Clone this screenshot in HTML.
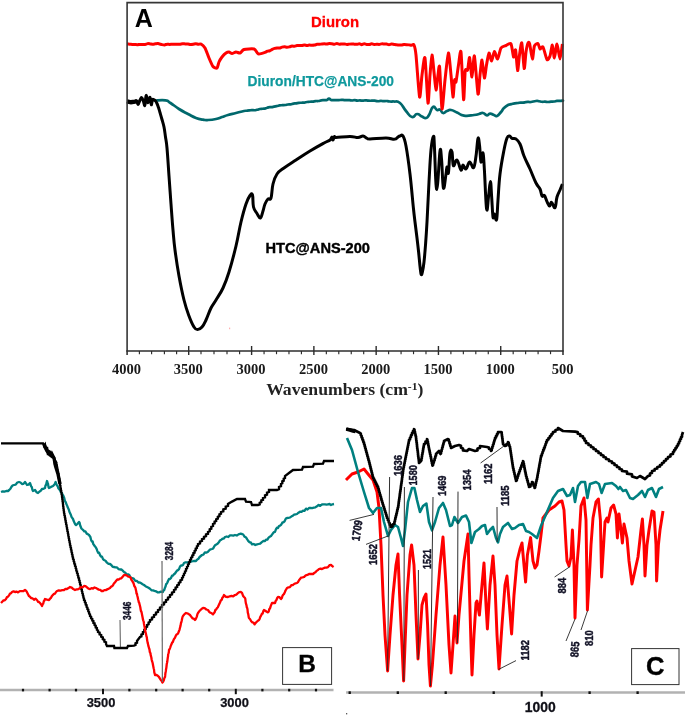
<!DOCTYPE html>
<html><head><meta charset="utf-8"><title>FTIR spectra</title>
<style>html,body{margin:0;padding:0;background:#fff;}body{width:685px;height:716px;overflow:hidden;font-family:"Liberation Sans",sans-serif;}svg{display:block;}text{font-family:"Liberation Sans",sans-serif;}.sf{font-family:"Liberation Serif",serif;font-weight:bold;}</style>
</head><body>
<svg width="685" height="716" viewBox="0 0 685 716" style="will-change:transform">
<rect x="0" y="0" width="685" height="716" fill="#ffffff"/>
<g id="panelA">
<path d="M155 100.6 C157.80 100.55 161.37 99.76 165.5 100.4 C169.63 101.04 166.90 100.71 170.5 103 C174.10 105.29 174.33 106.07 179 109 C183.67 111.93 183.47 111.60 188 114 C192.53 116.40 192.00 116.51 196 118 C200.00 119.49 199.80 119.07 203 119.6 C206.20 120.13 204.53 120.16 208 120 C211.47 119.84 212.27 119.80 216 119 C219.73 118.20 218.80 118.07 222 117 C225.20 115.93 224.27 116.07 228 115 C231.73 113.93 231.73 114.07 236 113 C240.27 111.93 241.17 111.60 244 111 C246.83 110.40 245.21 110.89 246.6 110.74 C247.99 110.59 247.81 110.62 249.2 110.44 C250.59 110.26 250.41 110.11 251.8 110.06 C253.19 110.01 253.01 110.33 254.4 110.26 C255.79 110.19 255.53 110.15 257 109.8 C258.47 109.45 258.38 109.25 259.9 108.96 C261.42 108.67 261.18 108.87 262.7 108.72 C264.22 108.57 264.08 108.77 265.6 108.41 C267.12 108.05 266.88 107.72 268.4 107.38 C269.92 107.04 269.78 107.33 271.3 107.12 C272.82 106.91 272.58 106.91 274.1 106.61 C275.62 106.31 275.51 106.33 277 106 C278.49 105.67 278.23 105.57 279.7 105.36 C281.17 105.15 281.03 105.29 282.5 105.2 C283.97 105.11 283.76 105.21 285.2 105.03 C286.64 104.85 286.46 104.71 287.9 104.52 C289.34 104.33 289.13 104.56 290.6 104.32 C292.07 104.08 291.93 103.88 293.4 103.61 C294.87 103.34 294.66 103.50 296.1 103.3 C297.54 103.10 297.36 103.01 298.8 102.86 C300.24 102.71 300.03 102.79 301.5 102.73 C302.97 102.67 302.83 102.81 304.3 102.62 C305.77 102.43 305.51 102.23 307 102 C308.49 101.77 308.38 101.88 309.9 101.77 C311.42 101.66 311.18 101.78 312.7 101.59 C314.22 101.40 314.08 101.23 315.6 101.07 C317.12 100.91 316.88 101.20 318.4 101 C319.92 100.80 319.78 100.55 321.3 100.33 C322.82 100.11 322.58 100.25 324.1 100.16 C325.62 100.07 325.69 100.44 327 100 C328.31 99.56 327.93 98.50 329 98.5 C330.07 98.50 329.77 99.56 331 100 C332.23 100.44 332.19 100.08 333.6 100.14 C335.01 100.20 334.89 100.23 336.3 100.21 C337.71 100.19 337.51 100.14 338.9 100.06 C340.29 99.98 340.09 99.91 341.5 99.9 C342.91 99.89 342.79 100.00 344.2 100.04 C345.61 100.08 345.39 100.02 346.8 100.04 C348.21 100.06 348.09 100.00 349.5 100.12 C350.91 100.24 350.71 100.47 352.1 100.48 C353.49 100.49 353.29 100.12 354.7 100.15 C356.11 100.18 355.99 100.53 357.4 100.6 C358.81 100.67 358.61 100.37 360 100.4 C361.39 100.43 361.21 100.74 362.6 100.71 C363.99 100.68 363.81 100.33 365.2 100.3 C366.59 100.27 366.39 100.47 367.8 100.58 C369.21 100.69 369.09 100.74 370.5 100.73 C371.91 100.72 371.71 100.51 373.1 100.54 C374.49 100.57 374.31 100.67 375.7 100.86 C377.09 101.05 376.91 101.25 378.3 101.24 C379.69 101.23 379.51 100.85 380.9 100.84 C382.29 100.83 382.09 101.17 383.5 101.22 C384.91 101.27 384.79 100.98 386.2 101.02 C387.61 101.06 387.41 101.21 388.8 101.38 C390.19 101.55 390.01 101.62 391.4 101.65 C392.79 101.68 391.71 101.14 394 101.5 C396.29 101.86 396.80 100.47 400 103 C403.20 105.53 402.80 107.27 406 111 C409.20 114.73 409.07 116.20 412 117 C414.93 117.80 414.33 114.13 417 114 C419.67 113.87 419.60 115.43 422 116.5 C424.40 117.57 424.13 118.40 426 118 C427.87 117.60 427.13 117.93 429 115 C430.87 112.07 430.87 108.33 433 107 C435.13 105.67 435.13 109.31 437 110 C438.87 110.69 438.40 108.80 440 109.6 C441.60 110.40 441.13 112.63 443 113 C444.87 113.37 444.87 111.80 447 111 C449.13 110.20 448.33 109.60 451 110 C453.67 110.40 453.53 111.01 457 112.5 C460.47 113.99 459.47 114.93 464 115.6 C468.53 116.27 470.00 115.43 474 115 C478.00 114.57 476.60 114.53 479 114 C481.40 113.47 480.87 112.63 483 113 C485.13 113.37 485.13 115.24 487 115.4 C488.87 115.56 488.13 113.71 490 113.6 C491.87 113.49 492.13 114.36 494 115 C495.87 115.64 495.13 116.80 497 116 C498.87 115.20 499.13 114.13 501 112 C502.87 109.87 502.13 109.87 504 108 C505.87 106.13 506.05 106.02 508 105 C509.95 103.98 509.51 104.59 511.3 104.16 C513.09 103.73 512.91 103.68 514.7 103.37 C516.49 103.06 516.43 103.22 518 103 C519.57 102.78 519.21 102.65 520.6 102.55 C521.99 102.45 521.81 102.74 523.2 102.62 C524.59 102.50 524.41 102.29 525.8 102.11 C527.19 101.93 527.01 101.98 528.4 101.95 C529.79 101.92 528.97 102.25 531 102 C533.03 101.75 533.87 101.20 536 101 C538.13 100.80 537.40 101.05 539 101.25 C540.60 101.45 540.40 101.63 542 101.75 C543.60 101.87 543.40 101.63 545 101.7 C546.60 101.77 546.40 102.01 548 102 C549.60 101.99 549.40 101.79 551 101.66 C552.60 101.53 552.40 101.72 554 101.52 C555.60 101.32 555.40 101.08 557 100.92 C558.60 100.76 558.40 101.02 560 100.93 C561.60 100.84 562.20 100.69 563 100.6" fill="none" stroke="#00686c" stroke-width="2.7" stroke-linejoin="round" stroke-linecap="round"/>
<path d="M127 44 C127.30 44.02 128.99 44.15 129.6 44.19 C130.21 44.23 131.59 44.34 132.2 44.38 C132.81 44.42 134.19 44.47 134.8 44.51 C135.41 44.55 136.79 44.73 137.4 44.72 C138.01 44.71 139.39 44.43 140 44.4 C140.61 44.37 142.00 44.48 142.6 44.5 C143.19 44.52 144.50 44.65 145.1 44.55 C145.69 44.45 147.09 43.70 147.7 43.63 C148.31 43.56 149.69 43.84 150.3 43.91 C150.91 43.98 152.31 44.24 152.9 44.23 C153.50 44.22 154.81 43.92 155.4 43.85 C156.00 43.78 157.23 43.51 158 43.6 C158.77 43.69 161.23 44.45 162 44.6 C162.77 44.75 164.00 44.95 164.6 44.9 C165.19 44.85 166.50 44.20 167.1 44.14 C167.69 44.08 169.09 44.40 169.7 44.4 C170.31 44.40 171.69 44.15 172.3 44.14 C172.91 44.13 174.31 44.33 174.9 44.35 C175.50 44.37 176.81 44.34 177.4 44.32 C178.00 44.30 179.39 44.27 180 44.2 C180.61 44.13 181.99 43.78 182.6 43.74 C183.21 43.70 184.58 43.88 185.2 43.9 C185.82 43.92 187.28 43.86 187.9 43.93 C188.52 44.00 189.89 44.43 190.5 44.47 C191.11 44.51 192.48 44.40 193.1 44.31 C193.72 44.22 195.18 43.74 195.8 43.74 C196.42 43.74 197.79 44.26 198.4 44.29 C199.01 44.32 200.23 43.57 201 44 C201.77 44.43 204.07 46.37 205 48 C205.93 49.63 208.07 55.84 209 58 C209.93 60.16 212.07 65.33 213 66.5 C213.93 67.67 216.30 68.53 217 68 C217.70 67.47 218.42 63.28 219 62 C219.58 60.72 221.18 58.05 222 57 C222.82 55.95 225.18 53.58 226 53 C226.82 52.42 228.30 51.94 229 52 C229.70 52.06 231.18 53.50 232 53.5 C232.82 53.50 235.07 52.06 236 52 C236.93 51.94 239.07 53.29 240 53 C240.93 52.71 242.37 49.97 244 49.5 C245.63 49.03 252.48 48.65 254 49 C255.52 49.35 256.42 51.92 257 52.5 C257.58 53.08 258.07 54.01 259 54 C259.93 53.99 264.02 52.73 265 52.4 C265.98 52.07 266.84 51.38 267.4 51.19 C267.96 51.00 269.24 50.96 269.8 50.75 C270.36 50.54 271.64 49.69 272.2 49.42 C272.76 49.15 274.04 48.60 274.6 48.43 C275.16 48.26 276.43 48.05 277 48 C277.57 47.95 278.92 48.13 279.5 48.03 C280.08 47.93 281.42 47.28 282 47.14 C282.58 47.00 283.92 46.83 284.5 46.84 C285.08 46.85 286.42 47.23 287 47.23 C287.58 47.23 288.92 46.98 289.5 46.84 C290.08 46.70 291.42 46.07 292 46.01 C292.58 45.95 293.92 46.37 294.5 46.32 C295.08 46.27 296.42 45.70 297 45.6 C297.58 45.50 298.92 45.51 299.5 45.5 C300.08 45.49 301.42 45.56 302 45.49 C302.58 45.42 303.92 44.93 304.5 44.93 C305.08 44.93 306.42 45.44 307 45.46 C307.58 45.48 308.92 45.13 309.5 45.1 C310.08 45.07 311.42 45.23 312 45.22 C312.58 45.21 313.92 45.12 314.5 45.02 C315.08 44.92 316.42 44.44 317 44.35 C317.58 44.26 318.92 44.32 319.5 44.28 C320.08 44.24 321.42 44.02 322 43.97 C322.58 43.92 323.92 43.81 324.5 43.81 C325.08 43.81 326.42 44.02 327 44 C327.58 43.98 328.92 43.64 329.5 43.62 C330.08 43.60 331.43 43.79 332 43.85 C332.57 43.91 333.83 44.17 334.4 44.14 C334.97 44.11 336.32 43.60 336.9 43.61 C337.48 43.62 338.82 44.19 339.4 44.23 C339.98 44.27 341.32 43.97 341.9 43.94 C342.48 43.91 343.82 43.88 344.4 43.93 C344.98 43.98 346.33 44.39 346.9 44.41 C347.47 44.43 348.73 44.17 349.3 44.12 C349.87 44.07 351.22 43.98 351.8 43.98 C352.38 43.98 353.72 44.11 354.3 44.15 C354.88 44.19 356.22 44.40 356.8 44.36 C357.38 44.32 358.73 43.76 359.3 43.79 C359.87 43.82 361.13 44.63 361.7 44.63 C362.27 44.63 363.62 43.81 364.2 43.79 C364.78 43.77 366.12 44.37 366.7 44.46 C367.28 44.55 368.62 44.63 369.2 44.56 C369.78 44.49 371.13 43.83 371.7 43.83 C372.27 43.83 373.53 44.50 374.1 44.54 C374.67 44.58 376.02 44.20 376.6 44.18 C377.18 44.16 378.52 44.41 379.1 44.38 C379.68 44.35 381.02 43.93 381.6 43.88 C382.18 43.83 383.52 43.91 384.1 43.93 C384.68 43.95 386.03 43.97 386.6 44.07 C387.17 44.17 388.43 44.78 389 44.78 C389.57 44.78 390.92 44.15 391.5 44.11 C392.08 44.07 393.42 44.33 394 44.4 C394.58 44.47 395.92 44.65 396.5 44.71 C397.08 44.77 398.42 44.90 399 44.94 C399.58 44.98 400.92 45.06 401.5 45.02 C402.08 44.98 403.42 44.60 404 44.56 C404.58 44.52 405.92 44.60 406.5 44.64 C407.08 44.68 408.42 44.81 409 44.87 C409.58 44.93 410.92 45.15 411.5 45.17 C412.08 45.19 413.48 43.85 414 45 C414.52 46.15 415.35 48.93 416 55 C416.65 61.07 418.90 94.67 419.6 97 C420.30 99.33 421.37 79.55 422 75 C422.63 70.45 424.30 54.73 425 58 C425.70 61.27 427.42 101.02 428 103 C428.58 104.98 429.53 80.60 430 75 C430.47 69.40 431.53 55.35 432 55 C432.47 54.65 433.53 67.92 434 72 C434.47 76.08 435.53 89.65 436 90 C436.47 90.35 437.58 77.68 438 75 C438.42 72.32 439.13 63.03 439.6 67 C440.07 70.97 441.37 107.48 442 109 C442.63 110.52 444.25 86.53 445 80 C445.75 73.47 447.70 53.58 448.4 53 C449.10 52.42 450.46 69.87 451 75 C451.54 80.13 452.58 96.42 453 97 C453.42 97.58 454.25 81.75 454.6 80 C454.95 78.25 455.55 83.75 456 82 C456.45 80.25 457.92 68.50 458.5 65 C459.08 61.50 460.40 47.96 461 52 C461.60 56.04 463.11 97.38 463.6 99.6 C464.09 101.82 464.73 74.45 465.2 71 C465.67 67.55 467.09 71.58 467.6 70 C468.11 68.42 469.09 56.68 469.6 57.5 C470.11 58.32 471.44 77.17 472 77 C472.56 76.83 473.70 54.02 474.4 56 C475.10 57.98 477.35 91.78 478 94 C478.65 96.22 479.53 78.97 480 75 C480.47 71.03 481.49 59.65 482 60 C482.51 60.35 483.88 77.42 484.4 78 C484.92 78.58 485.96 67.92 486.5 65 C487.04 62.08 488.40 53.47 489 53 C489.60 52.53 490.97 61.17 491.6 61 C492.23 60.83 493.70 51.73 494.4 51.5 C495.10 51.27 496.83 59.41 497.6 59 C498.37 58.59 500.02 49.58 501 48 C501.98 46.42 504.83 45.99 506 45.5 C507.17 45.01 510.11 42.46 511 43.8 C511.89 45.14 513.06 56.28 513.6 57 C514.14 57.72 515.13 48.42 515.6 50 C516.07 51.58 517.14 69.92 517.6 70.5 C518.06 71.08 519.01 58.21 519.5 55 C519.99 51.79 521.25 41.42 521.8 43 C522.35 44.58 523.71 67.45 524.2 68.5 C524.69 69.55 525.56 54.98 526 52 C526.44 49.02 527.58 43.98 528 43 C528.42 42.02 529.09 41.73 529.6 43.6 C530.11 45.47 531.84 58.72 532.4 59 C532.96 59.28 533.75 47.80 534.4 46 C535.05 44.20 537.35 43.25 538 43.6 C538.65 43.95 539.42 48.60 540 49 C540.58 49.40 542.18 45.76 543 47 C543.82 48.24 546.18 58.55 547 59.6 C547.82 60.65 549.37 57.70 550 56 C550.63 54.30 551.89 44.77 552.4 45 C552.91 45.23 553.86 58.12 554.4 58 C554.94 57.88 556.35 43.88 557 44 C557.65 44.12 559.37 59.00 560 59 C560.63 59.00 562.12 45.75 562.4 44" fill="none" stroke="#ff0000" stroke-width="3.0" stroke-linejoin="round" stroke-linecap="butt"/>
<path d="M127 101.4 C127.80 101.56 129.40 102.16 131 102.2 C132.60 102.24 133.84 101.84 135 101.6 C136.16 101.36 136.16 100.44 136.8 101 C137.44 101.56 137.56 104.60 138.2 104.4 C138.84 104.20 139.30 101.36 140 100 C140.70 98.64 141.04 97.40 141.7 97.6 C142.36 97.80 142.68 99.40 143.3 101 C143.92 102.60 144.36 105.80 144.8 105.6 C145.24 105.40 145.24 102.04 145.5 100 C145.76 97.96 145.80 95.60 146.1 95.4 C146.40 95.20 146.66 97.56 147 99 C147.34 100.44 147.40 102.40 147.8 102.6 C148.20 102.80 148.56 101.08 149 100 C149.44 98.92 149.66 97.00 150 97.2 C150.34 97.40 150.44 99.48 150.7 101 C150.96 102.52 151.04 104.60 151.3 104.8 C151.56 105.00 151.74 103.08 152 102 C152.26 100.92 152.20 99.84 152.6 99.4 C153.00 98.96 153.46 99.56 154 99.8 C154.54 100.04 154.70 99.86 155.3 100.6 C155.90 101.34 156.36 102.12 157 103.5 C157.64 104.88 157.90 105.70 158.5 107.5 C159.10 109.30 159.30 110.10 160 112.5 C160.70 114.90 161.20 116.60 162 119.5 C162.80 122.40 163.30 123.50 164 127 C164.70 130.50 164.90 132.80 165.5 137 C166.10 141.20 166.30 140.20 167 148 C167.70 155.80 168.20 164.80 169 176 C169.80 187.20 170.20 193.20 171 204 C171.80 214.80 172.20 220.80 173 230 C173.80 239.20 173.80 240.80 175 250 C176.20 259.20 177.20 266.00 179 276 C180.80 286.00 182.00 292.00 184 300 C186.00 308.00 187.00 310.60 189 316 C191.00 321.40 192.28 324.28 194 327 C195.72 329.72 196.00 329.60 197.6 329.6 C199.20 329.60 200.32 328.92 202 327 C203.68 325.08 204.20 323.80 206 320 C207.80 316.20 209.00 312.00 211 308 C213.00 304.00 213.60 304.00 216 300 C218.40 296.00 220.40 293.60 223 288 C225.60 282.40 226.40 280.40 229 272 C231.60 263.60 233.60 256.00 236 246 C238.40 236.00 239.00 230.40 241 222 C243.00 213.60 244.20 209.30 246 204 C247.80 198.70 248.70 197.30 250 195.5 C251.30 193.70 251.80 192.70 252.5 195 C253.20 197.30 252.60 203.30 253.5 207 C254.40 210.70 255.62 211.30 257 213.5 C258.38 215.70 259.20 218.50 260.4 218 C261.60 217.50 262.08 213.80 263 211 C263.92 208.20 264.00 206.40 265 204 C266.00 201.60 266.80 200.20 268 199 C269.20 197.80 270.00 201.00 271 198 C272.00 195.00 271.80 188.80 273 184 C274.20 179.20 274.80 177.20 277 174 C279.20 170.80 280.20 170.80 284 168 C287.80 165.20 290.80 163.40 296 160 C301.20 156.60 304.40 154.40 310 151 C315.60 147.60 320.00 145.20 324 143 C328.00 140.80 328.40 141.20 330 140 C331.60 138.80 331.40 137.00 332 137 C332.60 137.00 332.50 140.10 333 140 C333.50 139.90 333.90 137.00 334.5 136.5 C335.10 136.00 332.90 137.52 336 137.5 C339.10 137.48 345.60 136.38 350 136.4 C354.40 136.42 355.40 137.68 358 137.6 C360.60 137.52 361.20 135.84 363 136 C364.80 136.16 365.60 137.80 367 138.4 C368.40 139.00 366.20 139.08 370 139 C373.80 138.92 381.40 137.96 386 138 C390.60 138.04 391.00 139.04 393 139.2 C395.00 139.36 395.00 139.24 396 138.8 C397.00 138.36 397.20 137.56 398 137 C398.80 136.44 399.00 136.20 400 136 C401.00 135.80 401.80 134.00 403 136 C404.20 138.00 404.60 138.40 406 146 C407.40 153.60 408.52 161.60 410 174 C411.48 186.40 412.40 198.40 413.4 208 C414.40 217.60 414.28 216.00 415 222 C415.72 228.00 416.28 232.00 417 238 C417.72 244.00 417.96 246.00 418.6 252 C419.24 258.00 419.68 263.50 420.2 268 C420.72 272.50 420.76 273.70 421.2 274.5 C421.64 275.30 421.84 274.50 422.4 272 C422.96 269.50 423.38 267.40 424 262 C424.62 256.60 424.90 253.00 425.5 245 C426.10 237.00 426.30 234.60 427 222 C427.70 209.40 428.20 196.40 429 182 C429.80 167.60 430.12 159.12 431 150 C431.88 140.88 432.72 137.20 433.4 136.4 C434.08 135.60 433.88 136.48 434.4 146 C434.92 155.52 435.36 176.40 436 184 C436.64 191.60 436.80 190.60 437.6 184 C438.40 177.40 439.20 155.80 440 151 C440.80 146.20 440.92 152.60 441.6 160 C442.28 167.40 442.52 185.20 443.4 188 C444.28 190.80 445.28 178.20 446 174 C446.72 169.80 446.52 167.20 447 167 C447.48 166.80 447.80 175.80 448.4 173 C449.00 170.20 449.28 157.20 450 153 C450.72 148.80 451.32 149.48 452 152 C452.68 154.52 452.40 164.00 453.4 165.6 C454.40 167.20 455.48 159.12 457 160 C458.52 160.88 459.80 169.00 461 170 C462.20 171.00 462.00 165.20 463 165 C464.00 164.80 464.68 169.60 466 169 C467.32 168.40 468.08 162.28 469.6 162 C471.12 161.72 472.32 168.80 473.6 167.6 C474.88 166.40 475.12 161.84 476 156 C476.88 150.16 477.28 140.40 478 138.4 C478.72 136.40 479.00 141.28 479.6 146 C480.20 150.72 480.32 160.60 481 162 C481.68 163.40 482.32 151.40 483 153 C483.68 154.60 483.68 158.80 484.4 170 C485.12 181.20 485.76 203.80 486.6 209 C487.44 214.20 487.84 201.48 488.6 196 C489.36 190.52 489.80 181.60 490.4 181.6 C491.00 181.60 491.08 188.92 491.6 196 C492.12 203.08 492.44 213.40 493 217 C493.56 220.60 493.68 213.48 494.4 214 C495.12 214.52 495.88 222.40 496.6 219.6 C497.32 216.80 497.32 209.12 498 200 C498.68 190.88 498.80 184.00 500 174 C501.20 164.00 502.60 157.20 504 150 C505.40 142.80 505.88 140.80 507 138 C508.12 135.20 508.60 135.92 509.6 136 C510.60 136.08 510.72 137.80 512 138.4 C513.28 139.00 514.40 137.88 516 139 C517.60 140.12 518.40 140.60 520 144 C521.60 147.40 522.00 151.00 524 156 C526.00 161.00 527.60 163.60 530 169 C532.40 174.40 534.00 179.00 536 183 C538.00 187.00 538.80 186.40 540 189 C541.20 191.60 541.12 194.68 542 196 C542.88 197.32 543.40 194.48 544.4 195.6 C545.40 196.72 545.96 199.52 547 201.6 C548.04 203.68 548.68 205.84 549.6 206 C550.52 206.16 550.52 202.08 551.6 202.4 C552.68 202.72 553.92 208.68 555 207.6 C556.08 206.52 556.00 200.52 557 197 C558.00 193.48 558.92 192.60 560 190 C561.08 187.40 561.92 185.20 562.4 184" fill="none" stroke="#000" stroke-width="3.0" stroke-linejoin="round" stroke-linecap="butt"/>
<polyline points="127,101.4 131,102.3 135,101.7 137,101.2" fill="none" stroke="#000" stroke-width="4.4"/>
<path d="M127.1 355 L127.1 2.6 L563 2.6 L563 355" fill="none" stroke="#363636" stroke-width="1.6"/>
<line x1="126.3" y1="351" x2="563.6" y2="351" stroke="#2c2c2c" stroke-width="1.5"/>
<line x1="139.40" y1="351" x2="139.40" y2="354.2" stroke="#2c2c2c" stroke-width="1.15"/>
<line x1="151.60" y1="351" x2="151.60" y2="354.2" stroke="#2c2c2c" stroke-width="1.15"/>
<line x1="164.40" y1="351" x2="164.40" y2="354.2" stroke="#2c2c2c" stroke-width="1.15"/>
<line x1="176.60" y1="351" x2="176.60" y2="354.2" stroke="#2c2c2c" stroke-width="1.15"/>
<line x1="188.70" y1="346" x2="188.70" y2="355" stroke="#2c2c2c" stroke-width="1.4"/>
<line x1="201.00" y1="351" x2="201.00" y2="354.2" stroke="#2c2c2c" stroke-width="1.15"/>
<line x1="214.00" y1="351" x2="214.00" y2="354.2" stroke="#2c2c2c" stroke-width="1.15"/>
<line x1="227.00" y1="351" x2="227.00" y2="354.2" stroke="#2c2c2c" stroke-width="1.15"/>
<line x1="239.60" y1="351" x2="239.60" y2="354.2" stroke="#2c2c2c" stroke-width="1.15"/>
<line x1="251.60" y1="346" x2="251.60" y2="355" stroke="#2c2c2c" stroke-width="1.4"/>
<line x1="264.06" y1="351" x2="264.06" y2="354.2" stroke="#2c2c2c" stroke-width="1.15"/>
<line x1="276.51" y1="351" x2="276.51" y2="354.2" stroke="#2c2c2c" stroke-width="1.15"/>
<line x1="288.97" y1="351" x2="288.97" y2="354.2" stroke="#2c2c2c" stroke-width="1.15"/>
<line x1="301.42" y1="351" x2="301.42" y2="354.2" stroke="#2c2c2c" stroke-width="1.15"/>
<line x1="313.88" y1="346" x2="313.88" y2="355" stroke="#2c2c2c" stroke-width="1.4"/>
<line x1="326.34" y1="351" x2="326.34" y2="354.2" stroke="#2c2c2c" stroke-width="1.15"/>
<line x1="338.79" y1="351" x2="338.79" y2="354.2" stroke="#2c2c2c" stroke-width="1.15"/>
<line x1="351.25" y1="351" x2="351.25" y2="354.2" stroke="#2c2c2c" stroke-width="1.15"/>
<line x1="363.70" y1="351" x2="363.70" y2="354.2" stroke="#2c2c2c" stroke-width="1.15"/>
<line x1="376.16" y1="346" x2="376.16" y2="355" stroke="#2c2c2c" stroke-width="1.4"/>
<line x1="388.62" y1="351" x2="388.62" y2="354.2" stroke="#2c2c2c" stroke-width="1.15"/>
<line x1="401.07" y1="351" x2="401.07" y2="354.2" stroke="#2c2c2c" stroke-width="1.15"/>
<line x1="413.53" y1="351" x2="413.53" y2="354.2" stroke="#2c2c2c" stroke-width="1.15"/>
<line x1="425.98" y1="351" x2="425.98" y2="354.2" stroke="#2c2c2c" stroke-width="1.15"/>
<line x1="438.44" y1="346" x2="438.44" y2="355" stroke="#2c2c2c" stroke-width="1.4"/>
<line x1="450.90" y1="351" x2="450.90" y2="354.2" stroke="#2c2c2c" stroke-width="1.15"/>
<line x1="463.35" y1="351" x2="463.35" y2="354.2" stroke="#2c2c2c" stroke-width="1.15"/>
<line x1="475.81" y1="351" x2="475.81" y2="354.2" stroke="#2c2c2c" stroke-width="1.15"/>
<line x1="488.26" y1="351" x2="488.26" y2="354.2" stroke="#2c2c2c" stroke-width="1.15"/>
<line x1="500.72" y1="346" x2="500.72" y2="355" stroke="#2c2c2c" stroke-width="1.4"/>
<line x1="513.18" y1="351" x2="513.18" y2="354.2" stroke="#2c2c2c" stroke-width="1.15"/>
<line x1="525.63" y1="351" x2="525.63" y2="354.2" stroke="#2c2c2c" stroke-width="1.15"/>
<line x1="538.09" y1="351" x2="538.09" y2="354.2" stroke="#2c2c2c" stroke-width="1.15"/>
<line x1="550.54" y1="351" x2="550.54" y2="354.2" stroke="#2c2c2c" stroke-width="1.15"/>
<text class="sf" x="126.60" y="373.6" font-size="14.5" text-anchor="middle" fill="#1a1a1a">4000</text>
<text class="sf" x="188.20" y="373.6" font-size="14.5" text-anchor="middle" fill="#1a1a1a">3500</text>
<text class="sf" x="251.10" y="373.6" font-size="14.5" text-anchor="middle" fill="#1a1a1a">3000</text>
<text class="sf" x="313.38" y="373.6" font-size="14.5" text-anchor="middle" fill="#1a1a1a">2500</text>
<text class="sf" x="375.66" y="373.6" font-size="14.5" text-anchor="middle" fill="#1a1a1a">2000</text>
<text class="sf" x="437.94" y="373.6" font-size="14.5" text-anchor="middle" fill="#1a1a1a">1500</text>
<text class="sf" x="500.22" y="373.6" font-size="14.5" text-anchor="middle" fill="#1a1a1a">1000</text>
<text class="sf" x="562.50" y="373.6" font-size="14.5" text-anchor="middle" fill="#1a1a1a">500</text>
<text class="sf" x="266.2" y="395.3" font-size="16" fill="#222" textLength="157.2" lengthAdjust="spacingAndGlyphs">Wavenumbers (cm<tspan font-size="10.5" dy="-5.5">-1</tspan><tspan dy="5.5">)</tspan></text>
<text x="134.8" y="27.1" font-size="25" font-weight="bold" fill="#000">A</text>
<text x="311" y="26.7" font-size="14.9" font-weight="bold" fill="#ff0000" stroke="#ff0000" stroke-width="0.3" textLength="48" lengthAdjust="spacingAndGlyphs">Diuron</text>
<text x="247.6" y="85.8" font-size="14.6" font-weight="bold" fill="#0f999d" stroke="#0f999d" stroke-width="0.25" textLength="146.4" lengthAdjust="spacingAndGlyphs">Diuron/HTC@ANS-200</text>
<text x="265.5" y="253" font-size="15.2" font-weight="bold" fill="#000" stroke="#000" stroke-width="0.4" textLength="104.5" lengthAdjust="spacingAndGlyphs">HTC@ANS-200</text>
<rect x="229" y="327.6" width="1.2" height="1.6" fill="#ffb0b0"/>
</g>
<g id="panelB">
<line x1="0" y1="690.1" x2="333.5" y2="690.1" stroke="#b2b2b2" stroke-width="2.5"/>
<rect x="21.90" y="688.8" width="2.2" height="2.6" fill="#111"/>
<rect x="48.50" y="688.8" width="2.2" height="2.6" fill="#111"/>
<rect x="74.90" y="688.8" width="2.2" height="2.6" fill="#111"/>
<rect x="102.00" y="688.8" width="2.0" height="5.4" fill="#111"/>
<rect x="128.30" y="688.8" width="2.2" height="2.6" fill="#111"/>
<rect x="155.10" y="688.8" width="2.2" height="2.6" fill="#111"/>
<rect x="181.50" y="688.8" width="2.2" height="2.6" fill="#111"/>
<rect x="208.10" y="688.8" width="2.2" height="2.6" fill="#111"/>
<rect x="234.80" y="688.8" width="2.0" height="5.4" fill="#111"/>
<rect x="261.30" y="688.8" width="2.2" height="2.6" fill="#111"/>
<rect x="288.10" y="688.8" width="2.2" height="2.6" fill="#111"/>
<rect x="314.90" y="688.8" width="2.2" height="2.6" fill="#111"/>
<text x="101" y="706.9" font-size="12.9" font-weight="bold" text-anchor="middle" fill="#101018" stroke="#101018" stroke-width="0.25">3500</text>
<text x="234.5" y="706.9" font-size="12.9" font-weight="bold" text-anchor="middle" fill="#101018" stroke="#101018" stroke-width="0.25">3000</text>
<polyline points="1,492 2.8,491.3 4.5,491.6 6.2,491 8,491 9.2,490 10.4,488.8 11.6,486.6 12.8,485.3 14,485 15.7,484.6 17.3,482.5 19,482 20.5,482.5 22,484 23.5,483.9 25,482 26,483.4 27,485 28.5,484.6 30,483 30.6,484.6 31.2,486.5 31.8,487.1 32.4,489.7 33,491 35,490 36.5,492.2 38,493 39.3,491.7 40.7,490.8 42,489 43.5,488.8 45,488 45.5,485.4 46,485 46.5,482.9 47,481 47.5,482.4 48,483.6 48.5,486.9 49,488 51,486.9 53,486 53.9,485.1 54.7,484.1 55.6,482 56.3,483.8 57,485.6 57.6,486 58.3,488.2 59,489 60,490.2 61,492.5 62,493 62.6,495.1 63.1,495.1 63.7,496.6 64.3,498.2 64.9,501 65.4,501.5 66,503 66.6,504.7 67.1,505.5 67.7,507.3 68.3,508.5 68.9,509.9 69.4,511.7 70,513 70.8,514.7 71.5,516.8 72.2,517.8 73,519 73.8,521.3 74.5,522.7 75.2,524.4 76,525 77.5,523.8 79,522 79.6,522.8 80.2,525.5 80.8,527.1 81.4,528.4 82,529 83.2,530.1 84.3,531.4 85.5,531.5 86.7,533.6 87.8,534.1 89,535 89.7,536 90.4,537 91.1,540 91.9,541.6 92.6,541.4 93.3,544.1 94,545 94.9,546.3 95.7,547.2 96.6,548.9 97.4,551.2 98.3,552.9 99.1,552.7 100,555 101,556.5 102,556.6 103,559.2 104,560 105.5,560.7 107,562.7 108.5,563.9 110,564 111.3,565 112.7,566.9 114,567 115.5,567.3 117,567.4 118.5,569.1 120,569.5 121.3,569.4 122.7,570.6 124,572 125.3,572.8 126.7,574.2 128,574.3 129.3,575.1 130.7,577.7 132,578 133.7,578.6 135.3,580.9 137,581 138.4,582.6 139.8,582.4 141.2,583.3 142.6,584.2 144,585 145.5,586.2 147,587 148.5,587.8 150,588.8 151.5,590.3 153,590.4 154.5,590.9 156,591.3 157.5,592.3 159,592.4 161,591.7 163,592 163.6,590.2 164.2,590.2 164.9,587.9 165.5,586.6 166.1,584.2 166.8,583.6 167.4,582.5 168,581 169,579 170,579 171,577.9 172,575.7 173,575.6 174,574.2 175,573.5 176,572 177,570.6 178,570.1 179,569.1 180,566.6 181,565.5 182,565.6 183,565 184,563 185.5,562.3 187,562.4 188.5,562.4 190,562 191.5,561.4 193,561.2 194.5,560.9 196,561 197.2,559.6 198.4,558.8 199.6,557 200.8,556 202,555 203.4,554.7 204.9,552.4 206.3,552.6 207.7,552 209.1,550.4 210.6,549.3 212,549 213.2,548.4 214.3,546.2 215.5,544.9 216.7,544.2 217.8,543.5 219,542 220.2,540.2 221.4,539.7 222.6,538.7 223.8,538.6 225,537 226.7,536.5 228.3,537 230,535.4 231.7,535.4 233.3,535.6 235,535 236.8,535.5 238.5,534.4 240.2,533.7 242,534 243.2,534.5 244.5,536.6 245.8,537.2 247,539 248.2,540.9 249.5,542.3 250.8,542.4 252,544.4 253.7,544 255.3,545 257,544.4 258.6,544 260.2,543.6 261.8,542.1 263.4,541 265,541 266.2,539.6 267.4,539.6 268.6,537.6 269.8,536.7 271,536 272,534.6 273,533.3 274,532.1 275,531.8 276,529.1 277,527.6 278,528.1 279,526 280.1,525.6 281.3,524.6 282.4,522.4 283.6,522.3 284.7,521.1 285.9,518.6 287,518 288.4,517.9 289.9,517.5 291.3,516.6 292.7,515.8 294.1,514.7 295.6,514.3 297,514 298.5,512.7 300,511.7 301.5,511.9 303,510.6 304.5,510.8 306,508.6 307.5,509.5 309,508 310.6,508 312.2,508.1 313.8,507.7 315.4,507.3 317,506.3 318.6,504.9 320.2,505.9 321.8,504.5 323.4,504.4 325,504.4 326.5,504.6 328,504.3 329.5,504 331,505 332.5,504.3 334,504" fill="none" stroke="#008080" stroke-width="2.3" stroke-linejoin="round"/>
<polyline points="1,443.4 43,443.4 44,446 45,444.5 46,450 47,447 48,455 49,451 50,451.6 50,453.2 51,453.8 51,455.5 52,453 54,457 55,465 56,462 56.4,462.6 56.4,464.2 56.8,464.8 56.8,466.4 57.2,466.9 57.2,468.6 57.6,469.2 57.6,470.8 58,471.4 58,473 58.4,473.6 58.4,475.4 58.8,476 58.8,477.8 59.2,478.4 59.2,480.2 59.6,480.8 59.6,482.6 60,483.2 60,485 60.4,485.6 60.4,487.4 60.8,488 60.8,489.8 61.2,490.4 61.2,492.2 61.6,492.8 61.6,494.6 62,495.2 62,497 62.3,497.6 62.3,499.3 62.6,499.9 62.6,501.6 62.9,502.1 62.9,503.9 63.1,504.4 63.1,506.1 63.4,506.7 63.4,508.4 63.7,509 63.7,510.7 64,511.3 64,513 64.4,513.6 64.4,515.3 64.9,515.9 64.9,517.6 65.3,518.1 65.3,519.9 65.7,520.4 65.7,522.1 66.1,522.7 66.1,524.4 66.6,525 66.6,526.7 67,527.3 67,529 67.4,529.6 67.4,531.3 67.9,531.9 67.9,533.6 68.3,534.1 68.3,535.9 68.7,536.4 68.7,538.1 69.1,538.7 69.1,540.4 69.6,541 69.6,542.7 70,543.3 70,545 70.5,545.6 70.5,547.3 71,547.9 71,549.7 71.5,550.2 71.5,552 72,552.6 72,554.3 72.5,554.9 72.5,556.7 73,557.2 73,559 73.7,559.6 73.7,561.3 74.3,561.9 74.3,563.7 75,564.2 75,566 75.7,566.6 75.7,568.3 76.3,568.9 76.3,570.7 77,571.2 77,573 77.7,573.6 77.7,575.3 78.3,575.9 78.3,577.7 79,578.2 79,580 79.6,580.6 79.6,582.2 80.1,582.8 80.1,584.4 80.7,585 80.7,586.7 81.2,587.2 81.2,588.9 81.8,589.4 81.8,591.1 82.3,591.7 82.3,593.3 82.9,593.9 82.9,595.6 83.4,596.1 83.4,597.8 84,598.3 84,600 84.9,600.6 84.9,602.3 85.7,602.9 85.7,604.6 86.6,605.1 86.6,606.9 87.4,607.4 87.4,609.1 88.3,609.7 88.3,611.4 89.1,612 89.1,613.7 90,614.3 90,616 91.1,616.6 91.1,618.3 92.3,618.9 92.3,620.6 93.4,621.1 93.4,622.9 94.6,623.4 94.6,625.1 95.7,625.7 95.7,627.4 96.9,628 96.9,629.7 98,630.3 98,632 99.6,632.6 99.6,634.4 101.2,635 101.2,636.8 102.8,637.4 102.8,639.2 104.4,639.8 104.4,641.6 106,642.2 106,644 107,646 114,646 114.4,648 127,648 128,646 134,645.6 135.5,645 135.5,643.3 137,642.7 137,641 140,637 141.4,636.4 141.4,634.6 142.9,634 142.9,632.1 144.3,631.5 144.3,629.7 145.7,629.1 145.7,627.3 147.1,626.7 147.1,624.9 148.6,624.2 148.6,622.4 150,621.8 150,620 152,619.4 152,617.5 154,616.9 154,615 156,614.4 156,612.5 158,611.9 158,610 160,609.4 160,607.5 162,606.9 162,605 164,604.4 164,602.5 166,601.9 166,600 168,599.4 168,597.5 170,596.9 170,595 172,594.4 172,592.5 174,591.9 174,590 175.6,589.4 175.6,587.6 177.2,587 177.2,585.2 178.8,584.6 178.8,582.8 180.4,582.2 180.4,580.4 182,579.8 182,578 183,577.4 183,575.8 184,575.2 184,573.5 185,572.9 185,571.2 186,570.7 186,569 187,568.4 187,566.8 188,566.2 188,564.5 189,563.9 189,562.2 190,561.7 190,560 191.1,559.4 191.1,557.7 192.3,557.1 192.3,555.4 193.4,554.9 193.4,553.1 194.6,552.6 194.6,550.9 195.7,550.3 195.7,548.6 196.9,548 196.9,546.3 198,545.7 198,544 200,543.4 200,541.6 202,541 202,539.2 204,538.6 204,536.8 206,536.2 206,534.4 208,533.8 208,532 209.7,531.3 209.7,529.3 211.3,528.7 211.3,526.7 213,526 213,524 214.6,523.4 214.6,521.6 216.2,521 216.2,519.2 217.8,518.6 217.8,516.8 219.4,516.2 219.4,514.4 221,513.8 221,512 223.3,511.3 223.3,509.3 225.7,508.7 225.7,506.7 228,506 228,504 232,501.6 237,499 245,499 246,501.6 251,502 252,505 258,505 259.7,504.4 259.7,502.7 261.3,502.1 261.3,500.3 263,499.8 263,498 265,497.3 265,495.3 267,494.7 267,492.7 269,492 269,490 277,490 279,489.2 279,487 281,486.2 281,484 282.3,483.3 282.3,481.3 283.7,480.7 283.7,478.7 285,478 285,476 289,473 293,470 302,469.6 303,467 313,466.6 314,464 323,463.6 324,461 334,461" fill="none" stroke="#000" stroke-width="2.35" stroke-linejoin="miter"/>
<polyline points="44.5,445.5 47,451 50,455 54,458 55.5,466 58,474 60,484" fill="none" stroke="#000" stroke-width="3.4" stroke-linejoin="round"/>
<polyline points="1,603 2.2,601.7 3.5,600.4 4.8,600.3 6,599 7,597.1 8,596.7 9,595.3 10,593.6 11,593.2 12,592 13.5,591.3 15,592.1 16.5,591.6 18,592.4 19.8,591.1 21.5,591.1 23.2,591.2 25,590 26,590.7 27,592.2 28,594.2 29,596.1 30,596.8 31,598 32.5,598.3 34,599.8 35.5,598.7 37,600 38,601.8 39,602 40,603 41,604.2 42,606 42.6,604.3 43.2,603.7 43.8,601.3 44.4,600.5 45,599 47,599.7 49,600 50,598.7 51,597.8 52,595.9 53,594.8 54,593.9 55,593.6 56,592 57,591 58.8,590.4 60.5,590.6 62.2,590.2 64,590 65.5,588.9 67,589 68.5,588.1 70,587 71.7,587.6 73.3,589.1 75,590 76.5,589.4 78,589.3 79.5,588.4 81,587 82.5,587.5 84,586 85.5,586.1 87,587.4 88.5,588.7 90,589 91.5,588.2 93,588.5 94.5,587.5 96,588 97.4,588.9 98.8,589.6 100.2,589.9 101.6,591 103,591 104.4,590.1 105.8,590.1 107.2,589.4 108.6,588.7 110,588 111,586.8 112,586.2 113,585.3 114,583.3 115,582.4 116,581 117.3,579.4 118.6,579.6 119.9,578.6 121.1,578.3 122.4,577.1 123.7,575.3 125,574.8 126.7,575.3 128.3,576.6 130,577 130.7,577.6 131.4,579.8 132.1,580.7 132.9,582.1 133.6,583.4 134.3,586 135,587 135.4,587.8 135.8,589.5 136.2,591.2 136.5,593.5 136.9,593.6 137.3,595.7 137.7,597.3 138.1,599.3 138.5,600.7 138.8,602.2 139.2,602.7 139.6,604.4 140,606 140.3,607.3 140.7,609.7 141,611.3 141.3,611.4 141.7,612.9 142,614.5 142.3,616 142.7,618 143,619.7 143.3,620.6 143.7,621.7 144,624 144.3,625.4 144.6,626.9 144.9,628.7 145.2,630.9 145.5,632 145.8,633.3 146.2,635 146.5,636.6 146.8,637.1 147.1,640.1 147.4,641.4 147.7,643.1 148,644 148.4,646.1 148.7,646.9 149.1,648.5 149.5,649.5 149.8,652 150.2,652.5 150.5,654.1 150.9,655.9 151.3,657.3 151.6,659.2 152,661 152.3,661.8 152.7,663.3 153,665.1 153.3,666.5 153.7,668.5 154,669.5 154.3,672.5 154.7,673.6 155,675 156.5,674.9 158,676 158.9,676.9 159.8,678.4 160.6,679.7 161.5,680.6 162.4,682.6 163.1,681.8 163.7,680.6 164.3,678.3 165,677 165.2,675.4 165.4,673.2 165.7,671.7 165.9,670.5 166.1,668.8 166.3,668.2 166.6,665.5 166.8,663.7 167,663 167.2,662.1 167.5,659.8 167.8,657.5 168,656.6 168.2,654.1 168.5,653.3 168.8,652.4 169,650 169.6,649.2 170.2,647.6 170.9,645.5 171.5,644.3 172.1,642.6 172.8,642.2 173.4,640.4 174,639 174.8,638.1 175.7,636 176.5,634.5 177.3,634.2 178.2,633.2 179,631 179.4,630.1 179.8,628.5 180.2,627 180.6,625.4 181,623 181.4,622 181.8,620.3 182.2,618.2 182.6,616.7 183,616 184.5,614.1 186,613 188,613.6 190,615 191.2,616.6 192.5,618.3 193.8,618.7 195,620 195.6,619.3 196.2,618 196.8,616.6 197.4,614.2 198,613 199.2,611.3 200.5,610 201.8,608.7 203,608 204.7,608.2 206.3,609.5 208,610 209.2,611.8 210.5,612.8 211.8,613.3 213,614.4 213.8,613.4 214.6,612.3 215.4,609.9 216.2,609.6 217,608 217.8,607.3 218.6,605.6 219.3,604.1 220.1,602.2 220.9,600.2 221.7,599.8 222.4,597.6 223.2,597 224,595 226,596.8 228,597 229.8,596.3 231.5,595.8 233.2,596.3 235,595 236.5,594.6 238,592.9 239.5,592.1 241,592 242,592.9 243,595.7 244,597 245,598 245.3,598.9 245.6,601.6 245.9,603.4 246.2,604.4 246.5,605.4 246.8,607.3 247.2,608.1 247.5,609.5 247.8,612.6 248.1,613.6 248.4,615 248.7,617.2 249,618 250.1,619.2 251.2,621.2 252.4,622.4 253.5,622.6 254.6,624.4 255.7,622.9 256.8,621.8 257.9,620.7 259,620 259.7,618.7 260.4,616.7 261.1,615.6 261.9,613.7 262.6,613.6 263.3,611.2 264,610 265.3,610.7 266.7,611.7 268,612.4 268.7,611.5 269.3,609.1 270,608.4 270.7,606.1 271.3,604.6 272,603 273.5,603 275,603 275.8,600.7 276.5,599.9 277.2,598 278,597 279.5,597.2 281,599 281.8,598.1 282.5,595.7 283.2,594.8 284,593.9 284.8,592.2 285.5,590.5 286.2,589.4 287,588 288.4,587.4 289.9,587.1 291.3,585.2 292.7,585.2 294.1,584 295.6,583.3 297,583 298,582.1 299,580.3 300,579.1 301,577.6 302.6,577.3 304.2,576.9 305.8,575.3 307.4,574.9 309,574 311,574 313,574 314.2,573 315.4,572.3 316.6,570.9 317.8,570.1 319,569 320.5,568.6 322,569.1 323.5,568.3 325,567.6 326.5,567.6 328,567.1 329.5,565.2 331,565 332.3,566.1 333.6,567" fill="none" stroke="#ff0000" stroke-width="2.3" stroke-linejoin="round"/>
<line x1="162" y1="561" x2="162.4" y2="682" stroke="#6a6a6a" stroke-width="1.2"/>
<line x1="120" y1="620" x2="120.4" y2="647.5" stroke="#111" stroke-width="0.7"/>
<text transform="translate(173 560.2) rotate(-90)" font-size="11" font-weight="bold" fill="#121226" stroke="#121226" stroke-width="0.45" textLength="18.4" lengthAdjust="spacingAndGlyphs">3284</text>
<text transform="translate(130.6 620) rotate(-90)" font-size="11" font-weight="bold" fill="#121226" stroke="#121226" stroke-width="0.45" textLength="18.4" lengthAdjust="spacingAndGlyphs">3446</text>
<rect x="282.6" y="647.6" width="49" height="36.8" fill="#fff" stroke="#333" stroke-width="1"/>
<text x="307.2" y="672.4" font-size="24.5" font-weight="bold" text-anchor="middle" fill="#000" stroke="#000" stroke-width="0.3">B</text>
</g>
<g id="panelC">
<line x1="346.1" y1="692.6" x2="685" y2="692.6" stroke="#b2b2b2" stroke-width="2.5"/>
<rect x="348.55" y="691.3" width="2.3" height="2.7" fill="#111"/>
<rect x="396.65" y="691.3" width="2.3" height="2.7" fill="#111"/>
<rect x="444.55" y="691.3" width="2.3" height="2.7" fill="#111"/>
<rect x="492.55" y="691.3" width="2.3" height="2.7" fill="#111"/>
<rect x="540.70" y="691.2" width="2.0" height="5.4" fill="#111"/>
<rect x="588.45" y="691.3" width="2.3" height="2.7" fill="#111"/>
<rect x="636.45" y="691.3" width="2.3" height="2.7" fill="#111"/>
<text x="540.3" y="711.5" font-size="13.9" font-weight="bold" text-anchor="middle" fill="#101018" stroke="#101018" stroke-width="0.3">1000</text>
<rect x="346.2" y="713" width="1" height="1.4" fill="#333"/>
<polyline points="346,480 352,474 358,472 364,469 368,474 373,480 377,492 379,508 381,545 383,595 385,635 387.6,671 390,635 393,595 396,565 398,554 399.6,595 402,645 403.6,681 405,645 407,595 410,555 411.6,545 414,565 416,615 418,659 420,635 422,605 424,598 426,594 427.6,625 429,665 430.4,686 432.4,665 436,615 440,565 443,537 446,585 449,645 451,673 453,645 455,616 457,643 459,615 464,561 468,534 469,575 471,645 472,675 474,635 476,603 477,601 479.4,615 482,585 484,563 486,605 487.4,629 490,585 493,556 495,585 497,635 499,669 502,625 505,585 507,576 509.4,605 511.6,634 514,595 517,561 520,549 522,543 524,565 525.6,582 527.4,555 530.6,537.6 533,561 535,568 537,565 539,551 541,535 543,518 549,510 555,506 559,502 562,501 564,510 566,545 567,561 569,566 571,557 572.4,530 574,565 575,618 577,565 579,540 581,506 584,498 586,520 587.4,610 590,565 591,545 593,518 596,502 598.4,499 600.4,520 601.6,577 603.6,545 605,522 607,518 608,522 611,508 613.6,505 616,514 617.4,538 619,514 621,530 622.4,543 624,524 627,538 629,561 632,584 638,557 641,530 642.4,519 644,545 645,576 647,545 649,530 652,511 654,512 656,545 656.6,581 658.4,545 660,530 663,511" fill="none" stroke="#ff0000" stroke-width="2.95" stroke-linejoin="round"/>
<polyline points="347,438 352,450 358,472 364,492 369,508 373,513 377,508 381,508 384,522 388,536 391,530 395,525 398,527 401,538 403,546 405,530 408,502 412,488 414.4,488 417,500 420,512 423,506 426.4,503.6 429,522 432,530.4 435,522 439,508 443,503 446,510 450,526 452,525 454.4,517 458,523 462,517 466,515.6 469,522 471.4,543 475,532 479,529 482,526 485,525 487,534 490,530 493,527 496,538 498,542.4 500,534 503,527 508,523 512,529 515,528 519,525 523,524 526,531 529,532 532,534 537,538 541,526 547,512 553,498 558,491 563,489 567,496 570,495 573,488 575,502 578,486 581,482 585,482 587.4,498 590,484 596,482 599,484 601.6,493 605,484 612,483 616,486 618.4,489 620,487 623,491 626,490 630,498 633,499 638,495 642,491 645,497 648,490 652,488 656,497 659,489 663,487" fill="none" stroke="#008080" stroke-width="2.6" stroke-linejoin="round"/>
<polyline points="346,429 354,430 360,433 360.8,433.6 360.8,435.2 361.6,435.8 361.6,437.4 362.4,437.9 362.4,439.6 363.2,440.2 363.2,441.8 364,442.4 364,444 364.6,444.5 364.6,446 365.1,446.5 365.1,448 365.7,448.5 365.7,450 366.2,450.5 366.2,452 366.8,452.5 366.8,454 367.3,454.5 367.3,456 367.9,456.5 367.9,458 368.4,458.5 368.4,460 369,460.5 369,462 369.5,462.5 369.5,464 370,464.5 370,466 370.5,466.5 370.5,468 371,468.5 371,470 371.5,470.5 371.5,472 372,472.5 372,474 372.5,474.5 372.5,476 373,476.5 373,478 374,478.5 374,480 375,480.5 375,482 376,482.5 376,484 377,484.5 377,486 378,486.5 378,488 378.6,488.5 378.6,490 379.1,490.5 379.1,492 379.7,492.5 379.7,494 380.3,494.5 380.3,496 380.9,496.5 380.9,498 381.4,498.5 381.4,500 382,500.5 382,502 382.6,502.5 382.6,504 383.2,504.5 383.2,506 383.9,506.5 383.9,508 384.5,508.5 384.5,510 385.1,510.5 385.1,512 385.8,512.5 385.8,514 386.4,514.5 386.4,516 387,516.5 387,518 387.9,518.6 387.9,520.2 388.8,520.8 388.8,522.5 389.7,523.1 389.7,524.8 390.6,525.3 390.6,527 392.5,526.4 392.5,524.5 394.4,523.9 394.4,522 394.9,521.5 394.9,520 395.3,519.5 395.3,518 395.8,517.5 395.8,516 396.3,515.5 396.3,514 396.8,513.5 396.8,512 397.2,511.5 397.2,510 397.7,509.5 397.7,508 398.2,507.5 398.2,506 398.5,505.5 398.5,504 398.7,503.5 398.7,502 399,501.5 399,500 399.3,499.5 399.3,498 399.6,497.5 399.6,496 399.8,495.5 399.8,494 400.1,493.5 400.1,492 400.4,491.5 400.4,490 400.7,489.5 400.7,488 400.9,487.5 400.9,486 401.2,485.5 401.2,484 401.5,483.5 401.5,482 401.8,481.5 401.8,480 402,479.5 402,478 402.3,477.5 402.3,476 402.6,475.5 402.6,474 402.9,473.5 402.9,472 403.1,471.5 403.1,470 403.4,469.5 403.4,468 403.8,467.5 403.8,466 404.2,465.5 404.2,464 404.6,463.5 404.6,462 405,461.5 405,460 405.4,459.5 405.4,458 405.8,457.5 405.8,456 406.2,455.5 406.2,454 406.6,453.5 406.6,452 407,451.5 407,450 407.4,449.5 407.4,448 407.8,447.5 407.8,446 408.2,445.5 408.2,444 408.6,443.5 408.6,442 409,441.5 409,440 410,439.4 410,437.7 411,437.1 411,435.3 412,434.8 412,433 413,432.5 413,431 414,430.5 414,429 414.5,429.6 414.5,431.2 415,431.8 415,433.5 415.5,434.1 415.5,435.8 416,436.3 416,438 416.2,438.5 416.2,440.1 416.5,440.6 416.5,442.2 416.8,442.7 416.8,444.2 417,444.8 417,446.3 417.2,446.9 417.2,448.4 417.5,448.9 417.5,450.5 417.8,451 417.8,452.6 418,453.1 418,454.7 418.2,455.2 418.2,456.8 418.5,457.3 418.5,458.8 418.8,459.4 418.8,460.9 419,461.4 419,463 421,461 421.4,460.5 421.4,458.9 421.8,458.3 421.8,456.8 422.1,456.2 422.1,454.6 422.5,454.1 422.5,452.5 422.9,452 422.9,450.4 423.2,449.8 423.2,448.2 423.6,447.7 423.6,446.1 424,445.6 424,444 425.5,443.4 425.5,441.5 427,440.9 427,439 427.4,439.5 427.4,441.1 427.9,441.7 427.9,443.3 428.3,443.8 428.3,445.4 428.7,446 428.7,447.6 429.1,448.1 429.1,449.7 429.6,450.2 429.6,451.9 430,452.4 430,454 430.5,454.6 430.5,456.3 431,456.9 431,458.6 431.4,459.2 431.4,461 431.9,461.5 431.9,463.3 432.4,463.9 432.4,465.6 433.1,465 433.1,463.3 433.8,462.7 433.8,461 434.6,460.4 434.6,458.6 435.3,458.1 435.3,456.3 436,455.7 436,454 439,451 440.4,454 441,453.5 441,451.8 441.6,451.3 441.6,449.7 442.2,449.1 442.2,447.5 442.8,447 442.8,445.3 443.4,444.8 443.4,443.2 444,442.6 444,441 448,439 448.8,439.6 448.8,441.2 449.5,441.8 449.5,443.5 450.2,444.1 450.2,445.8 451,446.3 451,448 455,446 459,445 461,445.7 461,447.7 463,448.4 463,450.4 467,451 469,449 475,451 477.5,450.4 477.5,448.5 480,447.9 480,446 487,447 489,447.5 489,449 491,449.5 491,451 491.7,450.5 491.7,448.8 492.3,448.3 492.3,446.7 493,446.1 493,444.5 493.7,444 493.7,442.3 494.3,441.8 494.3,440.2 495,439.6 495,438 496,437.5 496,436 497,435.5 497,434 498,433.5 498,432 501.4,432 501.7,432.5 501.7,434 501.9,434.5 501.9,436 502.2,436.5 502.2,438 502.5,438.5 502.5,440 502.7,440.5 502.7,442 503,442.5 503,444 505,446 506.5,445.5 506.5,444 508,443.5 508,442 508.7,442.5 508.7,444 509.3,444.5 509.3,446 510,446.5 510,448 510.3,448.5 510.3,450 510.6,450.5 510.6,452 510.9,452.5 510.9,454 511.2,454.5 511.2,456 511.5,456.5 511.5,458 511.8,458.5 511.8,460 512.1,460.5 512.1,462 512.4,462.5 512.4,464 512.7,464.5 512.7,466 513,466.5 513,468 513.5,468.5 513.5,470.2 514,470.7 514,472.3 514.5,472.9 514.5,474.5 515,475 515,476.7 515.5,477.2 515.5,478.8 516,479.4 516,481 516.8,480.4 516.8,478.8 517.5,478.2 517.5,476.5 518.2,475.9 518.2,474.2 519,473.7 519,472 519.8,471.4 519.8,469.8 520.6,469.2 520.6,467.6 521.4,467.1 521.4,465.4 522.2,464.8 522.2,463.2 523,462.6 523,461 523.4,461.5 523.4,463.1 523.9,463.7 523.9,465.3 524.3,465.8 524.3,467.4 524.7,468 524.7,469.6 525.1,470.1 525.1,471.7 525.6,472.2 525.6,473.9 526,474.4 526,476 526.6,476.6 526.6,478.2 527.2,478.8 527.2,480.4 527.8,480.9 527.8,482.6 528.4,483.2 528.4,484.8 529,485.4 529,487 530.5,486.4 530.5,484.5 532,483.9 532,482 532.9,482.5 532.9,484 533.7,484.5 533.7,486 534.6,486.5 534.6,488 535.1,487.5 535.1,486 535.6,485.5 535.6,484 536,483.5 536,482 536.5,481.5 536.5,480 537,479.5 537,478 537.4,477.5 537.4,476 537.7,475.5 537.7,474 538.1,473.5 538.1,472 538.5,471.5 538.5,470 538.8,469.5 538.8,468 539.2,467.5 539.2,466 539.5,465.5 539.5,464 539.9,463.5 539.9,462 540.3,461.5 540.3,460 540.6,459.5 540.6,458 541,457.5 541,456 541.8,455.5 541.8,454 542.5,453.5 542.5,452 543.2,451.5 543.2,450 544,449.5 544,448 544.8,447.5 544.8,446 545.5,445.5 545.5,444 546.2,443.5 546.2,442 547,441.5 547,440 548.5,439.5 548.5,438 550,437.5 550,436 551.5,435.5 551.5,434 553,433.5 553,432 555.5,431.5 555.5,430 558,429.5 558,428 563,431 575,431.6 577.7,432.1 577.7,433.7 580.3,434.3 580.3,435.9 583,436.4 583,438 584.5,438.6 584.5,440.5 586,441.1 586,443 588.5,443.5 588.5,445 591,445.5 591,447 593.5,447.5 593.5,449 596,449.5 596,451 598.5,451.5 598.5,453 601,453.5 601,455 603.5,455.5 603.5,457 606,457.5 606,459 609,459.5 609,461 612,461.5 612,463 614.5,463.5 614.5,465 617,465.5 617,467 619.5,467.5 619.5,469 622,469.5 622,471 627,471.7 627,473.7 632,474.4 632,476.4 637,478 640,476 645,479 648,476 650,475.4 650,473.5 652,472.9 652,471 654.7,470.5 654.7,469 657.3,468.5 657.3,467 660,466.5 660,465 662,464.5 662,463 664,462.5 664,461 666,460.5 666,459 668,458.5 668,457 670.5,456.4 670.5,454.5 673,453.9 673,452 674.2,451.5 674.2,450 675.5,449.5 675.5,448 676.8,447.5 676.8,446 678,445.5 678,444 679,443.4 679,441.8 680,441.2 680,439.5 681,438.9 681,437.2 682,436.7 682,435 683,432" fill="none" stroke="#000" stroke-width="2.7" stroke-linejoin="round"/>
<polyline points="346.3,429 350,430 353,431 355.5,431.5" fill="none" stroke="#000" stroke-width="3.8"/>
<line x1="389.6" y1="477" x2="387.6" y2="671" stroke="#262626" stroke-width="0.95"/>
<line x1="404.4" y1="487" x2="403.8" y2="681" stroke="#262626" stroke-width="0.95"/>
<line x1="418.4" y1="570" x2="418.2" y2="659" stroke="#262626" stroke-width="0.95"/>
<line x1="433" y1="497" x2="430.5" y2="686" stroke="#262626" stroke-width="0.95"/>
<line x1="458" y1="491.6" x2="457.4" y2="643" stroke="#262626" stroke-width="0.95"/>
<line x1="497" y1="507" x2="497.2" y2="542" stroke="#262626" stroke-width="0.95"/>
<line x1="349.6" y1="520.4" x2="374" y2="514.4" stroke="#262626" stroke-width="0.9"/>
<line x1="366" y1="544.4" x2="388" y2="536" stroke="#262626" stroke-width="0.9"/>
<line x1="480.6" y1="463" x2="504" y2="446" stroke="#262626" stroke-width="0.9"/>
<line x1="498.6" y1="669.4" x2="516" y2="660.6" stroke="#262626" stroke-width="0.9"/>
<line x1="554.6" y1="577" x2="570" y2="566.6" stroke="#262626" stroke-width="0.9"/>
<line x1="566" y1="641" x2="575" y2="619" stroke="#262626" stroke-width="0.9"/>
<line x1="581" y1="630" x2="587.6" y2="610.6" stroke="#262626" stroke-width="0.9"/>
<text transform="translate(401.6 476) rotate(-90)" font-size="11.6" font-weight="bold" fill="#121226" stroke="#121226" stroke-width="0.45" textLength="21" lengthAdjust="spacingAndGlyphs">1636</text>
<text transform="translate(416.6 485.6) rotate(-90)" font-size="11.6" font-weight="bold" fill="#121226" stroke="#121226" stroke-width="0.45" textLength="20.5" lengthAdjust="spacingAndGlyphs">1580</text>
<text transform="translate(445.6 496) rotate(-90)" font-size="11.6" font-weight="bold" fill="#121226" stroke="#121226" stroke-width="0.45" textLength="20.5" lengthAdjust="spacingAndGlyphs">1469</text>
<text transform="translate(470.6 490.4) rotate(-90)" font-size="11.6" font-weight="bold" fill="#121226" stroke="#121226" stroke-width="0.45" textLength="21" lengthAdjust="spacingAndGlyphs">1354</text>
<text transform="translate(359.5 541.5) rotate(-82)" font-size="11.6" font-weight="bold" fill="#121226" stroke="#121226" stroke-width="0.45" textLength="21" lengthAdjust="spacingAndGlyphs">1709</text>
<text transform="translate(377.4 565) rotate(-90)" font-size="11.6" font-weight="bold" fill="#121226" stroke="#121226" stroke-width="0.45" textLength="21" lengthAdjust="spacingAndGlyphs">1652</text>
<text transform="translate(431.2 569) rotate(-90)" font-size="11.6" font-weight="bold" fill="#121226" stroke="#121226" stroke-width="0.45" textLength="20" lengthAdjust="spacingAndGlyphs">1521</text>
<text transform="translate(491.6 484) rotate(-90)" font-size="11.6" font-weight="bold" fill="#121226" stroke="#121226" stroke-width="0.45" textLength="20.5" lengthAdjust="spacingAndGlyphs">1162</text>
<text transform="translate(509.2 506) rotate(-90)" font-size="11.6" font-weight="bold" fill="#121226" stroke="#121226" stroke-width="0.45" textLength="20.5" lengthAdjust="spacingAndGlyphs">1185</text>
<text transform="translate(528.6 660.6) rotate(-90)" font-size="11.6" font-weight="bold" fill="#121226" stroke="#121226" stroke-width="0.45" textLength="20.5" lengthAdjust="spacingAndGlyphs">1182</text>
<text transform="translate(565.8 593.6) rotate(-90)" font-size="11.6" font-weight="bold" fill="#121226" stroke="#121226" stroke-width="0.45" textLength="15.8" lengthAdjust="spacingAndGlyphs">884</text>
<text transform="translate(578.2 657.4) rotate(-86)" font-size="11.6" font-weight="bold" fill="#121226" stroke="#121226" stroke-width="0.45" textLength="15.8" lengthAdjust="spacingAndGlyphs">865</text>
<text transform="translate(593.2 646) rotate(-90)" font-size="11.6" font-weight="bold" fill="#121226" stroke="#121226" stroke-width="0.45" textLength="15.8" lengthAdjust="spacingAndGlyphs">810</text>
<rect x="631.6" y="648.6" width="47.4" height="36" fill="#fff" stroke="#333" stroke-width="1"/>
<text x="655.3" y="674.8" font-size="25.5" font-weight="bold" text-anchor="middle" fill="#000" stroke="#000" stroke-width="0.4">C</text>
</g>
</svg></body></html>
